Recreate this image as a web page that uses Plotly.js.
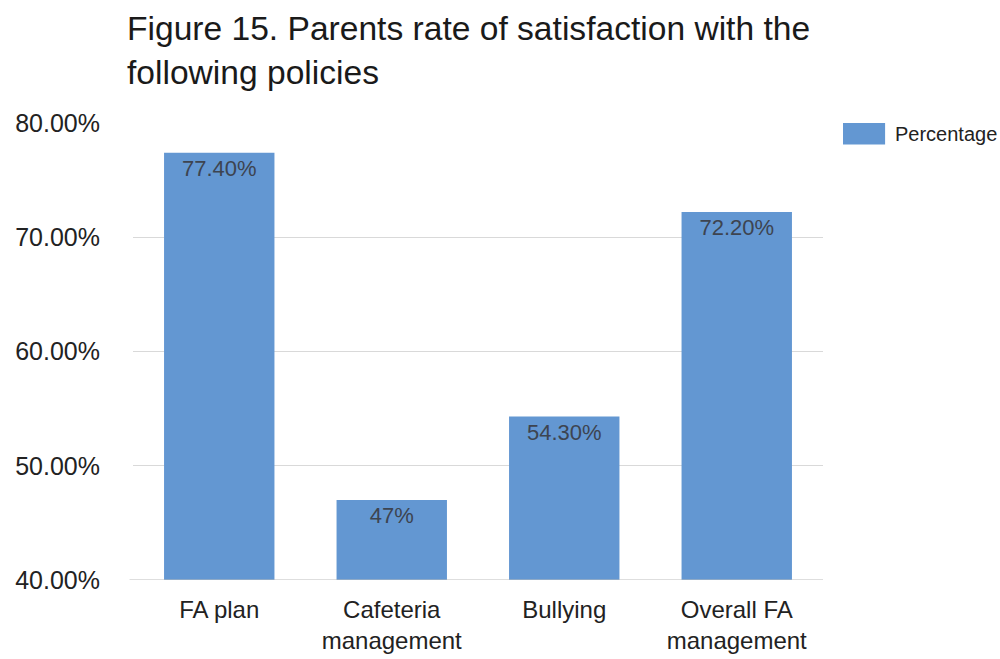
<!DOCTYPE html>
<html>
<head>
<meta charset="utf-8">
<script src="https://cdn.plot.ly/plotly-3.0.1.min.js"></script>
<style>html,body{margin:0;padding:0;background:#fff;}#chart{width:1000px;height:659px;}</style>
</head>
<body>
<div id="chart"></div>
<script>
const categories = ["FA plan", "Cafeteria<br>management", "Bullying", "Overall FA<br>management"];
const percentages = [77.4, 47, 54.3, 72.2];
const valueLabels = ["77.40%", "47%", "54.30%", "72.20%"];
const seriesName = "Percentage";
const yTickValues = [40, 50, 60, 70, 80];
const yTickLabels = ["40.00%", "50.00%", "60.00%", "70.00%", "80.00%"];
const titleText = "Figure 15. Parents rate of satisfaction with the<br>following policies";

const barColor = "#6397d2";
const font = "Liberation Sans, Arial, sans-serif";

const trace = {
  type: "bar",
  x: categories,
  y: percentages,
  name: seriesName,
  text: valueLabels,
  textposition: "inside",
  insidetextanchor: "end",
  textangle: 0,
  textfont: {family: font, size: 22, color: "#3d4450"},
  marker: {color: barColor},
  hoverinfo: "none",
  cliponaxis: false
};

const layout = {
  width: 1000,
  height: 659,
  margin: {l: 133, r: 177, t: 123, b: 79},
  paper_bgcolor: "#fff",
  plot_bgcolor: "#fff",
  showlegend: false,
  bargap: 0.36,
  font: {family: font, color: "#222"},
  xaxis: {
    type: "category",
    tickfont: {family: font, size: 24, color: "#222"},
    showgrid: false,
    showline: false,
    zeroline: false,
    ticks: "",
    ticklabelstandoff: 13
  },
  yaxis: {
    range: [40, 80],
    tickvals: yTickValues,
    ticktext: yTickLabels,
    tickfont: {family: font, size: 25, color: "#222"},
    showgrid: true,
    gridcolor: "#d9d9d9",
    gridwidth: 1,
    zeroline: false,
    showline: false,
    ticks: "",
    ticklabelstandoff: 32
  },
  shapes: [
    {type: "line", xref: "paper", yref: "y", x0: -0.005, x1: 1, y0: 40, y1: 40, line: {color: "#bdbdbd", width: 1}},
    {type: "rect", xref: "paper", yref: "paper", x0: 1.029, x1: 1.090, y0: 0.953, y1: 1.0, fillcolor: barColor, line: {width: 0}}
  ],
  annotations: [
    {xref: "paper", yref: "paper", x: -0.011, y: 1.252, xanchor: "left", yanchor: "top", align: "left",
     text: titleText, showarrow: false, font: {family: font, size: 33.6, color: "#1a1a1a"}},
    {xref: "paper", yref: "paper", x: 1.101, y: 0.9765, xanchor: "left", yanchor: "middle",
     text: seriesName, showarrow: false, font: {family: font, size: 20, color: "#222"}}
  ]
};

Plotly.newPlot("chart", [trace], layout, {staticPlot: true, displayModeBar: false});
</script>
</body>
</html>
